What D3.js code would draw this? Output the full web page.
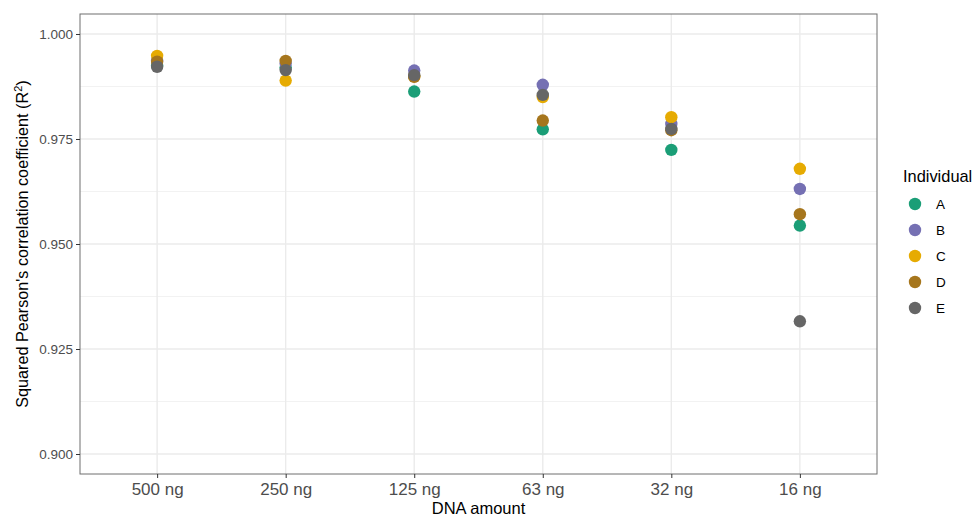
<!DOCTYPE html>
<html>
<head>
<meta charset="utf-8">
<script src="https://cdn.jsdelivr.net/npm/d3@7"></script>
<style>
  body { margin: 0; background: #fff; }
  svg { font-family: "Liberation Sans", Arial, sans-serif; }
</style>
</head>
<body>
<svg id="chart" width="973" height="516"></svg>
<script>
// categories and series
var amounts = ["500 ng", "250 ng", "125 ng", "63 ng", "32 ng", "16 ng"];
var individuals = ["A", "B", "C", "D", "E"];
var valuesA = [0.9925, 0.9920, 0.9863, 0.9773, 0.9724, 0.9544];
var valuesB = [0.9937, 0.9930, 0.9913, 0.9879, 0.9786, 0.9631];
var valuesC = [0.9948, 0.9889, 0.9899, 0.9850, 0.9802, 0.9679];
var valuesD = [0.9934, 0.9936, 0.9898, 0.9794, 0.9771, 0.9571];
var valuesE = [0.9922, 0.9914, 0.9902, 0.9855, 0.9774, 0.9316];
var yTicks = [0.900, 0.925, 0.950, 0.975, 1.000];
var yMinor = [0.9125, 0.9375, 0.9625, 0.9875];
var colours = ["#1b9e77", "#7570b3", "#e6ab02", "#a6761d", "#666666"];

var series = [valuesA, valuesB, valuesC, valuesD, valuesE];
var points = [];
series.forEach(function(vals, i) {
  vals.forEach(function(v, j) {
    points.push({ ind: individuals[i], amount: amounts[j], value: v });
  });
});

var svg = d3.select("#chart"),
  pLeft = 80, pRight = 877, pTop = 14, pBottom = 474;

var x = d3.scalePoint()
  .domain(amounts)
  .range([pLeft, pRight])
  .padding(0.6);

var y = d3.scaleLinear()
  .domain([0.89524, 1.00476])
  .range([pBottom, pTop]);

var color = d3.scaleOrdinal(individuals, colours);

// grid
var grid = svg.append("g");
grid.selectAll(".minor")
  .data(yMinor)
  .enter().append("line")
  .attr("x1", pLeft).attr("x2", pRight)
  .attr("y1", function(d) { return y(d); })
  .attr("y2", function(d) { return y(d); })
  .attr("stroke", "#f2f2f2").attr("stroke-width", 1);
grid.selectAll(".major")
  .data(yTicks)
  .enter().append("line")
  .attr("x1", pLeft).attr("x2", pRight)
  .attr("y1", function(d) { return y(d); })
  .attr("y2", function(d) { return y(d); })
  .attr("stroke", "#ebebeb").attr("stroke-width", 1.4);
grid.selectAll(".vert")
  .data(amounts)
  .enter().append("line")
  .attr("y1", pTop).attr("y2", pBottom)
  .attr("x1", function(d) { return x(d); })
  .attr("x2", function(d) { return x(d); })
  .attr("stroke", "#ebebeb").attr("stroke-width", 1.4);

// points
svg.append("g").selectAll("circle")
  .data(points)
  .enter().append("circle")
  .attr("cx", function(d) { return x(d.amount); })
  .attr("cy", function(d) { return y(d.value); })
  .attr("r", 6.2)
  .attr("fill", function(d) { return color(d.ind); });

// panel border
svg.append("rect")
  .attr("x", pLeft).attr("y", pTop)
  .attr("width", pRight - pLeft).attr("height", pBottom - pTop)
  .attr("fill", "none").attr("stroke", "#6e6e6e").attr("stroke-width", 1);

// axes
var yAxis = svg.append("g")
  .attr("transform", "translate(" + pLeft + ",0)")
  .call(d3.axisLeft(y).tickValues(yTicks).tickFormat(d3.format(".3f")).tickSize(4).tickPadding(3));
yAxis.select(".domain").remove();
yAxis.selectAll("line").attr("stroke", "#333");
yAxis.selectAll("text").attr("fill", "#4d4d4d").style("font-size", "13.5px");

var xAxis = svg.append("g")
  .attr("transform", "translate(0," + pBottom + ")")
  .call(d3.axisBottom(x).tickSize(4).tickPadding(5));
xAxis.select(".domain").remove();
xAxis.selectAll("line").attr("stroke", "#333");
xAxis.selectAll("text").attr("fill", "#4d4d4d").style("font-size", "17px");

// axis titles
svg.append("text")
  .attr("x", (pLeft + pRight) / 2).attr("y", 514)
  .attr("text-anchor", "middle")
  .style("font-size", "16.5px")
  .text("DNA amount");

var yTitle = svg.append("text")
  .attr("transform", "translate(28," + ((pTop + pBottom) / 2) + ") rotate(-90)")
  .attr("text-anchor", "middle")
  .style("font-size", "16.2px");
yTitle.append("tspan").text("Squared Pearson's correlation coefficient (R");
yTitle.append("tspan").attr("dy", -6).style("font-size", "11px").text("2");
yTitle.append("tspan").attr("dy", 6).text(")");

// legend
var legend = svg.append("g");
legend.append("text")
  .attr("x", 903).attr("y", 182)
  .style("font-size", "16.4px")
  .text("Individual");
var items = legend.selectAll(".item")
  .data(individuals)
  .enter().append("g")
  .attr("transform", function(d, i) { return "translate(915," + (204 + i * 26) + ")"; });
items.append("circle").attr("r", 6.2).attr("fill", function(d) { return color(d); });
items.append("text")
  .attr("x", 21).attr("y", 5)
  .style("font-size", "13.5px")
  .text(function(d) { return d; });
</script>
</body>
</html>
